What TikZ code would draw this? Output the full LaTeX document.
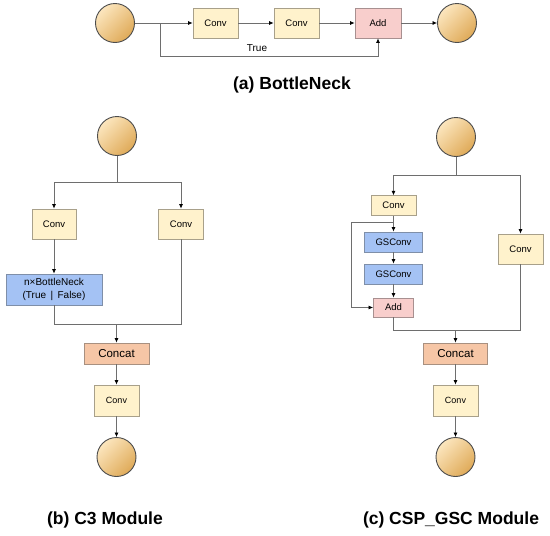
\documentclass[tikz,border=0pt]{standalone}
\usepackage{fontspec}
\setmainfont{Liberation Sans}
\usetikzlibrary{arrows.meta}
\definecolor{convfill}{HTML}{FFF2CC}
\definecolor{convdraw}{HTML}{A8A08A}
\definecolor{addfill}{HTML}{F8CECC}
\definecolor{adddraw}{HTML}{A89090}
\definecolor{bluefill}{HTML}{A4C2F4}
\definecolor{bluedraw}{HTML}{7F8FA8}
\definecolor{catfill}{HTML}{F6C6A6}
\definecolor{catdraw}{HTML}{A89080}
\definecolor{circlight}{HTML}{FCE6BE}
\definecolor{circdark}{HTML}{DFAA58}
\definecolor{linec}{HTML}{6E6E6E}
\tikzset{
  box/.style={draw, line width=0.8pt, inner sep=0pt, align=center, font=\fontsize{9.5}{11}\selectfont},
  convbox/.style={box, fill=convfill, draw=convdraw},
  addbox/.style={box, fill=addfill, draw=adddraw},
  bluebox/.style={box, fill=bluefill, draw=bluedraw},
  catbox/.style={box, fill=catfill, draw=catdraw, font=\fontsize{11.5}{13}\selectfont},
  circ/.style={circle, draw=black!70, line width=0.9pt, minimum size=39pt, inner sep=0pt,
    top color=circlight, bottom color=circdark, shading angle=45},
  conn/.style={draw=linec, line width=0.7pt},
  arr/.style={conn, -{Latex[length=4.5pt,width=4pt,fill=black,color=black]}},
  title/.style={font=\bfseries\fontsize{17.5}{20}\selectfont},
}
\begin{document}
\begin{tikzpicture}[x=1pt,y=-1pt]
\useasboundingbox (0,0) rectangle (550,536);
\fill[white] (0,0) rectangle (550,536);
% ---------- (a) BottleNeck ----------
\node[circ] (ain) at (115,23) {};
\node[convbox, minimum width=45pt, minimum height=30pt] (aconv1) at (215.5,23) {Conv};
\node[convbox, minimum width=45pt, minimum height=30pt] (aconv2) at (296.5,23) {Conv};
\node[addbox, minimum width=46pt, minimum height=30pt] (aadd) at (378,23) {Add};
\node[circ] (aout) at (457,23) {};
\coordinate (ab1) at (160,23);
\coordinate (ab2) at (160,56);
\draw[arr] (ain) -- (aconv1);
\draw[arr] (aconv1) -- (aconv2);
\draw[arr] (aconv2) -- (aadd);
\draw[arr] (aadd) -- (aout);
\draw[arr] (ab1) -- (ab2) -| (aadd.south);
\node[font=\fontsize{10}{12}\selectfont] (atrue) at (257,48.5) {True};
\node[title] (atitle) at (292,85) {(a) BottleNeck};
% ---------- (b) C3 Module ----------
\node[circ] (bin) at (117,136) {};
\node[convbox, minimum width=44pt, minimum height=30pt] (bconv1) at (54,224) {Conv};
\node[convbox, minimum width=45pt, minimum height=30pt] (bconv2) at (181,224) {Conv};
\node[bluebox, minimum width=96pt, minimum height=31pt, font=\fontsize{10}{12.5}\selectfont] (bbn) at (54,289.5) {n×BottleNeck\\(True \,|\, False)};
\node[catbox, minimum width=65pt, minimum height=21pt] (bcat) at (116.5,353.5) {Concat};
\node[convbox, minimum width=45pt, minimum height=31pt, font=\fontsize{9}{11}\selectfont] (bconv3) at (116.5,400.5) {Conv};
\node[circ] (bout) at (116.5,457) {};
\coordinate (bs) at (117,182);
\coordinate (bj) at (116.5,324);
\draw[conn] (bin) -- (bs);
\draw[arr] (bs) -| (bconv1.north);
\draw[arr] (bs) -| (bconv2.north);
\draw[arr] (bconv1) -- (bbn);
\draw[conn] (bbn.south) |- (bj);
\draw[conn] (bconv2.south) |- (bj);
\draw[arr] (bj) -- (bcat);
\draw[arr] (bcat) -- (bconv3);
\draw[arr] (bconv3) -- (bout);
\node[title] (btitle) at (105,520) {(b) C3 Module};
% ---------- (c) CSP_GSC Module ----------
\node[circ] (cin) at (456,137) {};
\node[convbox, minimum width=45pt, minimum height=19.5pt] (cconv1) at (393.5,205.5) {Conv};
\node[bluebox, minimum width=58pt, minimum height=20pt] (cgs1) at (393.5,242) {GSConv};
\node[bluebox, minimum width=58pt, minimum height=20pt] (cgs2) at (393.5,274) {GSConv};
\node[addbox, minimum width=40pt, minimum height=19pt] (cadd) at (393.5,307.5) {Add};
\node[convbox, minimum width=45pt, minimum height=30pt] (cconv2) at (520.5,249) {Conv};
\node[catbox, minimum width=64pt, minimum height=21pt] (ccat) at (455.5,353.5) {Concat};
\node[convbox, minimum width=45pt, minimum height=31pt, font=\fontsize{9}{11}\selectfont] (cconv3) at (455.5,400.5) {Conv};
\node[circ] (cout) at (455.5,457) {};
\coordinate (cs) at (456,175);
\coordinate (cb1) at (393.5,222);
\coordinate (cb2) at (351,222);
\coordinate (cj) at (455.5,330);
\draw[conn] (cin) -- (cs);
\draw[arr] (cs) -| (cconv1.north);
\draw[arr] (cs) -| (cconv2.north);
\draw[arr] (cconv1) -- (cgs1);
\draw[arr] (cb1) -- (cb2) |- (cadd.west);
\draw[arr] (cgs1) -- (cgs2);
\draw[arr] (cgs2) -- (cadd);
\draw[conn] (cadd.south) |- (cj);
\draw[conn] (cconv2.south) |- (cj);
\draw[arr] (cj) -- (ccat);
\draw[arr] (ccat) -- (cconv3);
\draw[arr] (cconv3) -- (cout);
\node[title] (ctitle) at (451,520) {(c) CSP\_GSC Module};
\end{tikzpicture}
\end{document}
